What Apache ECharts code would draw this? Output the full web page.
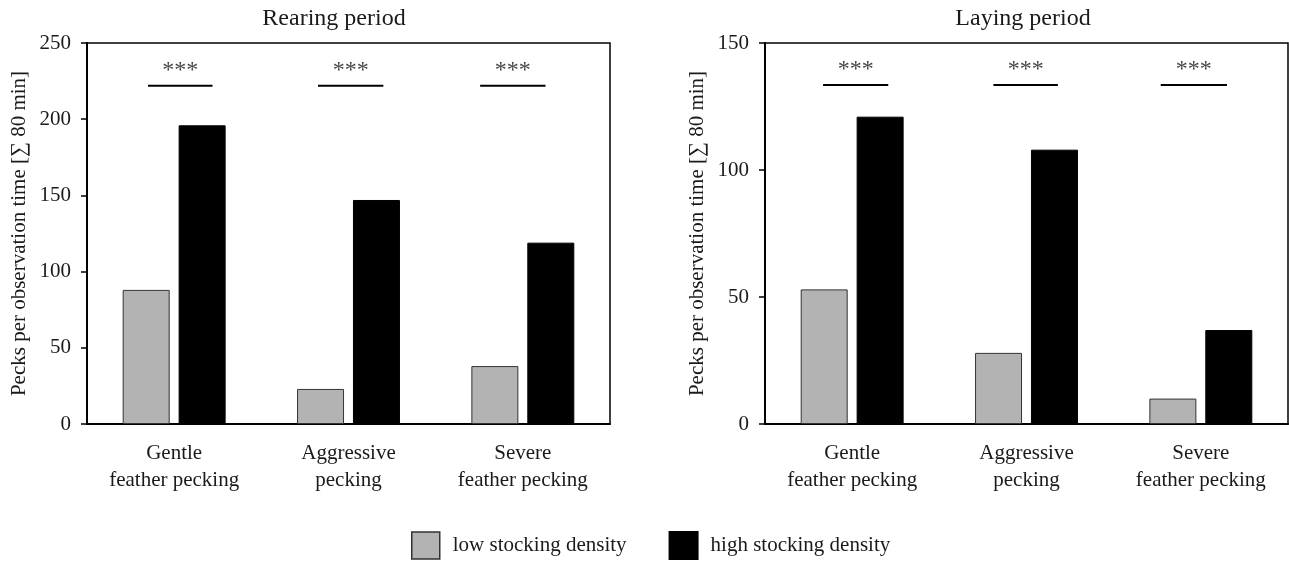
<!DOCTYPE html>
<html>
<head>
<meta charset="utf-8">
<script src="https://cdn.jsdelivr.net/npm/echarts@6/dist/echarts.min.js"></script>
<style>
html,body{margin:0;padding:0;background:#fff;}
#c{width:1289px;height:563px;}
</style>
</head>
<body>
<div id="c"></div>
<script>
const categories = ['Gentle\nfeather pecking', 'Aggressive\npecking', 'Severe\nfeather pecking'];
const seriesNames = ['low stocking density', 'high stocking density'];
const panelTitles = ['Rearing period', 'Laying period'];
const yAxisName = 'Pecks per observation time [\u2211 80 min]';

const rearingLow = [88, 23, 38];
const rearingHigh = [196, 147, 119];
const layingLow = [53, 28, 10];
const layingHigh = [121, 108, 37];

const rearingMax = 250, rearingInterval = 50;
const layingMax = 150, layingInterval = 50;

// significance bars: [start, end] in category units (0..3), and y level
const rearingSigSpans = [[0.35, 0.72], [1.325, 1.70], [2.255, 2.63]];
const rearingSigY = 222;
const rearingStarY = 232;
const layingSigSpans = [[0.333, 0.707], [1.31, 1.68], [2.27, 2.65]];
const layingSigY = 133.5;
const layingStarY = 139.5;
const sigText = '***';

const FONT = '"Liberation Serif", "Times New Roman", serif';
const grayColor = '#b3b3b3';
const textColor = '#1a1a1a';

function yAxisDef(gi, max, interval) {
  return {
    type: 'value', gridIndex: gi, min: 0, max: max, interval: interval,
    name: yAxisName, nameLocation: 'middle', nameGap: 57,
    nameTextStyle: {fontFamily: FONT, fontSize: 21, color: textColor},
    axisLine: {show: true, lineStyle: {color: '#000', width: 2}},
    axisTick: {show: true, length: 6, lineStyle: {color: '#000', width: 1.5}},
    axisLabel: {fontFamily: FONT, fontSize: 21, color: textColor, margin: 16},
    splitLine: {show: false}
  };
}
function xCatDef(gi) {
  return {
    type: 'category', gridIndex: gi, data: categories,
    axisLine: {show: true, lineStyle: {color: '#000', width: 2}},
    axisTick: {show: false},
    axisLabel: {fontFamily: FONT, fontSize: 21, color: textColor, lineHeight: 27, margin: 16},
    splitLine: {show: false}
  };
}
function xValDef(gi) {
  return {type: 'value', gridIndex: gi, min: 0, max: 3, show: false};
}

function sigSeries(xi, yi, spans, yLine, yStar) {
  const out = [];
  spans.forEach(s => {
    out.push({
      type: 'line', xAxisIndex: xi, yAxisIndex: yi, symbol: 'none', silent: true,
      lineStyle: {color: '#000', width: 2},
      data: [[s[0], yLine], [s[1], yLine]]
    });
  });
  out.push({
    type: 'scatter', xAxisIndex: xi, yAxisIndex: yi, symbolSize: 0, silent: true,
    data: spans.map(s => [(s[0] + s[1]) / 2, yStar]),
    label: {show: true, position: 'inside', formatter: sigText, fontFamily: FONT, fontSize: 24, color: '#111'}
  });
  return out;
}

function barPair(xi, yi, low, high) {
  return [
    {name: seriesNames[0], type: 'bar', xAxisIndex: xi, yAxisIndex: yi, data: low,
     barWidth: 47, barGap: '19%',
     itemStyle: {color: grayColor, borderColor: '#333', borderWidth: 1}},
    {name: seriesNames[1], type: 'bar', xAxisIndex: xi, yAxisIndex: yi, data: high,
     barWidth: 47, barGap: '19%',
     itemStyle: {color: '#000', borderColor: '#000', borderWidth: 1}}
  ];
}

const chart = echarts.init(document.getElementById('c'), null, {renderer: 'canvas'});
chart.setOption({
  backgroundColor: '#fff',
  animation: false,
  title: [
    {text: panelTitles[0], left: 329, top: 2, textAlign: 'center',
     textStyle: {fontFamily: FONT, fontSize: 24, fontWeight: 'normal', color: textColor}},
    {text: panelTitles[1], left: 1018, top: 2, textAlign: 'center',
     textStyle: {fontFamily: FONT, fontSize: 24, fontWeight: 'normal', color: textColor}}
  ],
  legend: {
    data: [
      {name: seriesNames[0], itemStyle: {color: grayColor, borderColor: '#333', borderWidth: 1.5}},
      {name: seriesNames[1], itemStyle: {color: '#000'}}
    ],
    left: 406, top: 526, icon: 'rect', itemWidth: 28, itemHeight: 27, itemGap: 42,
    textStyle: {fontFamily: FONT, fontSize: 21, color: textColor, padding: [0, 0, 0, 8]}
  },
  grid: [
    {left: 87, right: 679, top: 43, bottom: 139, show: true, borderColor: '#000', borderWidth: 1.5, backgroundColor: 'transparent'},
    {left: 765, right: 1, top: 43, bottom: 139, show: true, borderColor: '#000', borderWidth: 1.5, backgroundColor: 'transparent'}
  ],
  xAxis: [xCatDef(0), xCatDef(1), xValDef(0), xValDef(1)],
  yAxis: [yAxisDef(0, rearingMax, rearingInterval), yAxisDef(1, layingMax, layingInterval)],
  series: [].concat(
    barPair(0, 0, rearingLow, rearingHigh),
    barPair(1, 1, layingLow, layingHigh),
    sigSeries(2, 0, rearingSigSpans, rearingSigY, rearingStarY),
    sigSeries(3, 1, layingSigSpans, layingSigY, layingStarY)
  )
});
</script>
</body>
</html>
